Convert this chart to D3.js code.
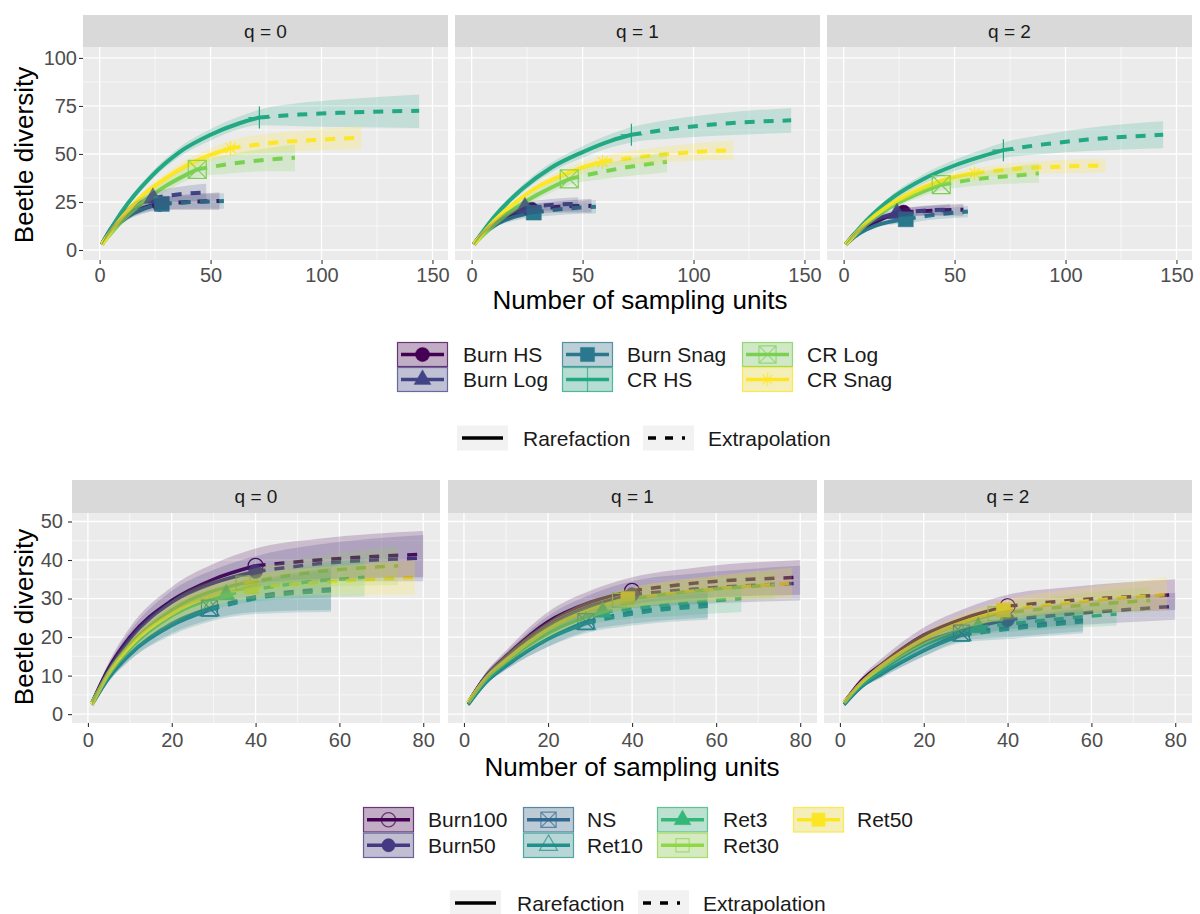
<!DOCTYPE html>
<html><head><meta charset="utf-8">
<script src="https://cdn.jsdelivr.net/npm/d3@7"></script>
<style>body{margin:0;background:#fff;} text{font-family:"Liberation Sans",Arial,sans-serif;}</style>
</head><body><svg id="c" width="1200" height="914"></svg>
<script>
// ---------------- DATA ----------------
const facetLabels = ["q = 0", "q = 1", "q = 2"];
const lineTypes = ["Rarefaction", "Extrapolation"];
const xTitle = "Number of sampling units";
const yTitle = "Beetle diversity";

// Top figure
const topGroups = ["Burn HS", "Burn Log", "Burn Snag", "CR HS", "CR Log", "CR Snag"];
const topN = [27, 24, 28, 72, 44, 59]; // observed sampling units (end of rarefaction)
const topXTicks = [0, 50, 100, 150];
const topYTicks = [0, 25, 50, 75, 100];
// each point: [units, diversity, lower CI, upper CI]
const topQ0 = [
  [[1,3,2.5,3.5],[5,10,9,11],[10,15.5,14,17],[15,19.5,17.5,21.5],[20,22,19.5,24.5],[27,24,21,27],[40,25,21,29],[54,25.5,21,30]],
  [[1,3,2.5,3.5],[5,11,10,12],[10,18,16.5,19.5],[15,22.5,20.5,24.5],[20,25.5,23,28],[24,27,24,30],[36,29,25,33],[48,30,25.5,34.5]],
  [[1,3,2.5,3.5],[5,9.5,8.5,10.5],[10,15,13.5,16.5],[15,19,17,21],[20,21.5,19,24],[28,24,21,27],[42,25,21.5,28.5],[56,25.5,21.5,29.5]],
  [[1,3,2.5,3.5],[10,20,18.5,21.5],[23,38,36,40],[36,51,48.5,53.5],[50,60,57,63],[63,66,63,69.5],[72,69,65,73],[90,70.5,64.5,76.5],[110,71.5,64,78.5],[144,72.5,63.5,81]],
  [[1,3,2.5,3.5],[10,15,13.5,16.5],[20,25.5,23,28],[30,33.5,30.5,36.5],[44,42,38,46],[60,45,40,50],[75,47,41,53],[88,48,41,55]],
  [[1,3,2.5,3.5],[10,17,15.5,18.5],[20,29,27,31],[30,37.5,35,40],[40,44.5,41.5,47.5],[50,49.5,46,53],[59,53,49,57],[80,56,51,61],[100,57.5,52,63],[118,58.5,52.5,64.5]]
];
const topQ1 = [
  [[1,3,2.5,3.5],[5,8.5,8,9.5],[10,13,12,14.5],[15,16.5,15,18],[20,19,17,21],[27,21,18.5,23.5],[40,22.5,19.5,25.5],[54,23,19.5,26.5]],
  [[1,3,2.5,3.5],[5,9,8.5,10],[10,14.5,13.5,15.5],[15,18,16.5,19.5],[20,20.5,18.5,22.5],[24,22,19.5,24.5],[36,23.5,20.5,26.5],[48,24,20.5,27.5]],
  [[1,3,2.5,3.5],[5,8,7.5,9],[10,12.5,11.5,13.5],[15,15.5,14,17],[20,17.5,15.5,19.5],[28,19.5,17,22],[42,21.5,18.5,24.5],[56,22.5,19,26]],
  [[1,3,2.5,3.5],[10,17,16,18.5],[23,32,30,34],[36,43,40.5,45.5],[50,51,48,54],[63,57,53.5,60.5],[72,60,56,64],[90,63,58,68],[110,65.5,59.5,71],[144,67.5,61,74]],
  [[1,3,2.5,3.5],[10,13,12,14],[20,22,20,24],[30,29,26.5,31.5],[44,37,34,40],[60,41,37,45],[75,44,39,48.5],[88,46,40.5,51]],
  [[1,3,2.5,3.5],[10,15,14,16],[20,25,23.5,26.5],[30,33,31,35],[40,38.5,36,41],[50,43,40,46],[59,46,43,49],[80,49,45,53],[100,51,46.5,55.5],[118,52,47,57]]
];
const topQ2 = [
  [[1,3,2.5,3.5],[5,8,7.5,9],[10,12,11,13],[15,15,13.5,16.5],[20,17.5,16,19],[27,19.5,17.5,21.5],[40,20.5,18,23],[54,21,18,24]],
  [[1,3,2.5,3.5],[5,8.5,8,9.5],[10,13,12,14],[15,16,14.5,17.5],[20,18,16.5,20],[24,19,17,21],[36,20.5,18,23],[48,21,18,24]],
  [[1,3,2.5,3.5],[5,7,6.5,8],[10,10.5,9.5,11.5],[15,13,12,14.5],[20,14.5,13,16],[28,16,14,18],[42,18.5,16,21],[56,20,17,23]],
  [[1,3,2.5,3.5],[10,15,14,16],[23,28,26,30],[36,37,34.5,39.5],[50,44,41,47],[63,49,46,52.5],[72,52,48,56],[90,55,50,60],[110,57.5,51.5,63.5],[144,60,53,67]],
  [[1,3,2.5,3.5],[10,13,12,14],[20,21.5,20,23],[30,27.5,25.5,29.5],[44,34,31,37],[60,37,33.5,40.5],[75,38.5,34.5,43],[88,40,35,45]],
  [[1,3,2.5,3.5],[10,14,13,15],[20,23,21.5,24.5],[30,29.5,27.5,31.5],[40,34.5,32.5,36.5],[50,38,35.5,40.5],[59,40,37.5,42.5],[80,42.5,39.5,45.5],[100,43.5,40,47],[118,44,40.5,47.5]]
];

// Bottom figure
const botGroups = ["Burn100", "Burn50", "NS", "Ret10", "Ret3", "Ret30", "Ret50"];
const botN = [40, 40, 29, 29, 33, 37, 39];
const botXTicks = [0, 20, 40, 60, 80];
const botYTicks = [0, 10, 20, 30, 40, 50];
const botQ0 = [
  [[1,3,2.5,3.5],[5,12,11,13.5],[10,20,18,22.5],[20,29.5,26.5,33],[30,35,31,39],[40,38.5,34,43],[55,40,35,45.5],[80,41.5,35.5,47.5]],
  [[1,3,2.5,3.5],[5,11.5,10.5,13],[10,19.5,17.5,21.5],[20,29,26,32],[30,34,30.5,37.5],[40,37,33,41],[55,39,34.5,44],[80,40.5,34.5,46.5]],
  [[1,2.5,2,3],[5,9.5,8.5,10.5],[10,15.5,14,17],[20,23.5,21,26],[29,27.5,24.5,30.5],[40,30.5,26.5,34.5],[58,32.5,27,38]],
  [[1,2.5,2,3],[5,9.5,8.5,10.5],[10,15.5,14,17],[20,23,20.5,25.5],[29,27,24,30],[40,30,26,34],[58,32,26.5,37.5]],
  [[1,3,2.5,3.5],[5,10.5,9.5,11.5],[10,17,15.5,18.5],[20,25.5,23,28],[33,31,28,34],[50,34,30,38],[66,35.5,30.5,40.5]],
  [[1,3,2.5,3.5],[5,11,10,12],[10,18,16.5,19.5],[20,27,24.5,29.5],[37,34,31,37],[55,37,33,41],[74,38.5,33.5,43.5]],
  [[1,2.5,2,3],[5,10.5,9.5,11.5],[10,17.5,16,19],[20,26,23.5,28.5],[39,33,30,36],[60,34.5,31,38.5],[78,35.5,31,40]]
];
const botQ1 = [
  [[1,3,2.5,3.5],[5,9.5,8.5,10.5],[10,15,13.5,16.5],[20,24,21.5,26.5],[30,29,26,32],[40,32,28.5,35.5],[55,34,30,38],[80,35.5,31,40]],
  [[1,3,2.5,3.5],[5,9.5,8.5,10.5],[10,14.5,13,16],[20,23,20.5,25.5],[30,28,25,31],[40,31,27.5,34.5],[55,32.5,28.5,36.5],[80,34,29.5,38.5]],
  [[1,2.5,2,3],[5,8,7.5,9],[10,12.5,11.5,13.5],[20,19.5,17.5,21.5],[29,24,21.5,26.5],[40,26.5,23.5,29.5],[58,28.5,25,32]],
  [[1,2.5,2,3],[5,8,7.5,9],[10,12.5,11.5,13.5],[20,19.5,17.5,21.5],[29,23.5,21,26],[40,26,23,29],[58,28,24.5,31.5]],
  [[1,3,2.5,3.5],[5,8.5,8,9.5],[10,13.5,12.5,14.5],[20,21,19,23],[33,26.5,24,29],[50,28.5,25.5,31.5],[66,30,26.5,33.5]],
  [[1,3,2.5,3.5],[5,9,8.5,10],[10,14,13,15.5],[20,22,20,24],[37,29.5,27,32],[55,32,29,35],[74,33.5,30,37]],
  [[1,3,2.5,3.5],[5,9,8.5,10],[10,14,13,15.5],[20,22,20,24],[39,30,27.5,32.5],[60,32.5,29.5,36],[78,34,30,38]]
];
const botQ2 = [
  [[1,3,2.5,3.5],[5,8.5,8,9.5],[10,13,12,14.5],[20,20.5,18.5,22.5],[30,25,22.5,27.5],[40,28,25,31],[55,29.5,26,33],[80,31,27,35]],
  [[1,3,2.5,3.5],[5,8,7.5,9],[10,12,11,13],[20,18.5,17,20.5],[30,22,20,24.5],[40,24.5,22,27],[55,26,23,29],[80,28,24.5,31.5]],
  [[1,2.5,2,3],[5,7,6.5,7.5],[10,10.5,9.5,11.5],[20,16.5,15,18],[29,21,19,23],[40,22.5,20,25],[58,24.5,21.5,27.5]],
  [[1,2.5,2,3],[5,7,6.5,7.5],[10,10.5,9.5,11.5],[20,16.5,15,18],[29,20.5,18.5,22.5],[40,22,19.5,24.5],[58,24,21,27]],
  [[1,3,2.5,3.5],[5,7.5,7,8],[10,11.5,10.5,12.5],[20,18,16.5,19.5],[33,22.5,20.5,24.5],[50,24.5,22,27],[66,26,23,29]],
  [[1,3,2.5,3.5],[5,8,7.5,8.5],[10,12.5,11.5,13.5],[20,19.5,18,21],[37,26,24,28],[55,28,25.5,31],[74,29.5,26.5,33]],
  [[1,3,2.5,3.5],[5,8,7.5,8.5],[10,12.5,11.5,13.5],[20,19.5,18,21],[39,27,24.5,29.5],[60,29.5,26.5,33],[78,31,27,35.5]]
];

// ---------------- STYLE ----------------
const topColors = ["#440154", "#414487", "#2A788E", "#22A884", "#7AD151", "#FDE725"];
const topShapes = ["circle", "triangle", "square", "plus", "squarecross", "asterisk"];
const botColors = ["#440154", "#443A83", "#31688E", "#21908C", "#35B779", "#8FD744", "#FDE725"];
const botShapes = ["opencircle", "circle", "squarecross", "opentriangle", "triangle", "opensquare", "square"];

const svg = d3.select("#c");
let clipId = 0;

function shapePath(shape, s) {
  const h = s / 2;
  switch (shape) {
    case "circle": case "opencircle":
      return d3.symbol(d3.symbolCircle, Math.PI * h * h)();
    case "triangle": case "opentriangle": {
      const r = s / Math.sqrt(3);
      return `M0,${-r}L${h},${r / 2}L${-h},${r / 2}Z`;
    }
    case "square": case "opensquare":
      return `M${-h},${-h}H${h}V${h}H${-h}Z`;
    case "plus":
      return `M0,${-h}V${h}M${-h},0H${h}`;
    case "squarecross":
      return `M${-h},${-h}H${h}V${h}H${-h}ZM${-h},${-h}L${h},${h}M${h},${-h}L${-h},${h}`;
    case "asterisk": {
      const d = h * 0.72;
      return `M0,${-h}V${h}M${-h},0H${h}M${-d},${-d}L${d},${d}M${d},${-d}L${-d},${d}`;
    }
  }
}
function drawShape(g, shape, cx, cy, color, s, op) {
  const filled = ["circle", "triangle", "square"].includes(shape);
  g.append("path").attr("d", shapePath(shape, s))
    .attr("transform", `translate(${cx},${cy})`)
    .attr("fill", filled ? color : "none")
    .attr("stroke", color)
    .attr("stroke-opacity", op == null ? 1 : op)
    .attr("stroke-width", filled ? 0.5 : 1.2);
}

function drawPlot(cfg) {
  cfg.panels.forEach((px, pi) => {
    const x = d3.scaleLinear().domain(cfg.xDomain).range(px);
    const y = d3.scaleLinear().domain(cfg.yDomain).range([cfg.panelBottom, cfg.panelTop]);
    const g = svg.append("g");
    const w = px[1] - px[0], h = cfg.panelBottom - cfg.panelTop;
    g.append("rect").attr("x", px[0]).attr("y", cfg.panelTop).attr("width", w).attr("height", h).attr("fill", "#EBEBEB");
    g.selectAll(null).data(cfg.xMinor).enter().append("line")
      .attr("x1", d => x(d)).attr("x2", d => x(d)).attr("y1", cfg.panelTop).attr("y2", cfg.panelBottom)
      .attr("stroke", "#fff").attr("stroke-width", 0.6);
    g.selectAll(null).data(cfg.yMinor).enter().append("line")
      .attr("y1", d => y(d)).attr("y2", d => y(d)).attr("x1", px[0]).attr("x2", px[1])
      .attr("stroke", "#fff").attr("stroke-width", 0.6);
    g.selectAll(null).data(cfg.xTicks).enter().append("line")
      .attr("x1", d => x(d)).attr("x2", d => x(d)).attr("y1", cfg.panelTop).attr("y2", cfg.panelBottom)
      .attr("stroke", "#fff").attr("stroke-width", 1.3);
    g.selectAll(null).data(cfg.yTicks).enter().append("line")
      .attr("y1", d => y(d)).attr("y2", d => y(d)).attr("x1", px[0]).attr("x2", px[1])
      .attr("stroke", "#fff").attr("stroke-width", 1.3);

    const cid = "clip" + (clipId++);
    svg.append("clipPath").attr("id", cid).append("rect")
      .attr("x", px[0]).attr("y", cfg.panelTop).attr("width", w).attr("height", h);
    const pg = g.append("g").attr("clip-path", `url(#${cid})`);
    const series = cfg.data[pi];
    const area = d3.area().x(d => x(d[0])).y0(d => y(d[2])).y1(d => y(d[3])).curve(d3.curveMonotoneX);
    const line = d3.line().x(d => x(d[0])).y(d => y(d[1])).curve(d3.curveMonotoneX);
    series.forEach((s, k) => {
      const n = cfg.n[k];
      pg.append("path").attr("d", line(s.filter(d => d[0] <= n)))
        .attr("fill", "none").attr("stroke", cfg.colors[k]).attr("stroke-width", cfg.lineW);
      pg.append("path").attr("d", line(s.filter(d => d[0] >= n)))
        .attr("fill", "none").attr("stroke", cfg.colors[k]).attr("stroke-width", cfg.lineW)
        .attr("stroke-dasharray", "10,9");
    });
    series.forEach((s, k) => {
      const n = cfg.n[k];
      const p = s.find(d => d[0] === n);
      drawShape(pg, cfg.shapes[k], x(p[0]), y(p[1]), cfg.colors[k], cfg.ptSizes[k]);
    });
    series.forEach((s, k) => {
      pg.append("path").attr("d", area(s)).attr("fill", cfg.colors[k]).attr("fill-opacity", 0.2);
    });
    g.append("rect").attr("x", px[0]).attr("y", cfg.stripTop).attr("width", w)
      .attr("height", cfg.panelTop - cfg.stripTop).attr("fill", "#D9D9D9");
    g.append("text").attr("x", (px[0] + px[1]) / 2).attr("y", (cfg.stripTop + cfg.panelTop) / 2)
      .attr("text-anchor", "middle").attr("dominant-baseline", "central")
      .attr("font-size", cfg.stripFont).attr("fill", "#1A1A1A").text(facetLabels[pi]);
    const ax = g.append("g").attr("transform", `translate(0,${cfg.panelBottom})`)
      .call(d3.axisBottom(x).tickValues(cfg.xTicks).tickSize(4).tickPadding(cfg.xPad));
    ax.select(".domain").remove();
    ax.selectAll("line").attr("stroke", "#333").attr("stroke-width", 1.1);
    ax.selectAll("text").attr("font-size", cfg.tickFont).attr("fill", "#4D4D4D")
      .attr("font-family", "Liberation Sans, Arial, sans-serif");
    if (pi === 0) {
      const ay = g.append("g").attr("transform", `translate(${px[0]},0)`)
        .call(d3.axisLeft(y).tickValues(cfg.yTicks).tickSize(4).tickPadding(cfg.yPad));
      ay.select(".domain").remove();
      ay.selectAll("line").attr("stroke", "#333").attr("stroke-width", 1.1);
      ay.selectAll("text").attr("font-size", cfg.tickFont).attr("fill", "#4D4D4D")
        .attr("font-family", "Liberation Sans, Arial, sans-serif");
    }
  });
  svg.append("text").attr("x", cfg.xTitleX).attr("y", cfg.xTitleY).attr("text-anchor", "middle")
    .attr("font-size", cfg.titleFont).attr("fill", "#000").text(xTitle);
  svg.append("text").attr("transform", `translate(${cfg.yTitleX},${cfg.yTitleY}) rotate(-90)`)
    .attr("text-anchor", "middle").attr("dominant-baseline", "central")
    .attr("font-size", cfg.titleFont).attr("fill", "#000").text(yTitle);

  const L = cfg.legend;
  cfg.groups.forEach((name, k) => {
    const col = Math.floor(k / 2), row = k % 2;
    const kx = L.keyX[col], ky = L.top + row * L.keyH;
    const g = svg.append("g");
    g.append("rect").attr("x", kx).attr("y", ky).attr("width", L.keyW).attr("height", L.keyH).attr("fill", "#F2F2F2");
    g.append("line").attr("x1", kx + 4).attr("x2", kx + L.keyW - 4).attr("y1", ky + L.keyH / 2).attr("y2", ky + L.keyH / 2)
      .attr("stroke", cfg.colors[k]).attr("stroke-width", 3.5);
    drawShape(g, cfg.shapes[k], kx + L.keyW / 2, ky + L.keyH / 2, cfg.colors[k],
      cfg.shapes[k] === "plus" ? L.keyH : cfg.ptSizes[k] * 0.95, 0.7);
    g.append("rect").attr("x", kx + 0.5).attr("y", ky + 0.5).attr("width", L.keyW - 1).attr("height", L.keyH - 1)
      .attr("fill", cfg.colors[k]).attr("fill-opacity", 0.28).attr("stroke", cfg.colors[k]).attr("stroke-opacity", 0.75).attr("stroke-width", 1.2);
    g.append("text").attr("x", L.labelX[col]).attr("y", ky + L.keyH / 2).attr("dominant-baseline", "central")
      .attr("font-size", L.font).attr("fill", "#1A1A1A").text(name);
  });
  const T = cfg.ltLegend;
  lineTypes.forEach((name, k) => {
    const kx = T.keyX[k], ky = T.cy - L.keyH / 2;
    svg.append("rect").attr("x", kx).attr("y", ky).attr("width", L.keyW).attr("height", L.keyH).attr("fill", "#F2F2F2");
    const ln = svg.append("line").attr("y1", T.cy).attr("y2", T.cy).attr("stroke", "#000").attr("stroke-width", 3.5);
    if (k === 1) ln.attr("x1", kx + 5).attr("x2", kx + L.keyW - 9).attr("stroke-dasharray", "8,9");
    else ln.attr("x1", kx + 5).attr("x2", kx + L.keyW - 5);
    svg.append("text").attr("x", T.labelX[k]).attr("y", T.cy).attr("dominant-baseline", "central")
      .attr("font-size", L.font).attr("fill", "#1A1A1A").text(name);
  });
}

drawPlot({
  panels: [[83, 448], [455, 820], [827, 1192]],
  stripTop: 15, panelTop: 47, panelBottom: 260,
  xDomain: [-7.5, 157], yDomain: [-5.2, 105.7],
  xTicks: topXTicks, yTicks: topYTicks, xMinor: [25, 75, 125], yMinor: [12.5, 37.5, 62.5, 87.5],
  data: [topQ0, topQ1, topQ2], n: topN, colors: topColors, shapes: topShapes,
  ptSizes: [15, 18, 15, 22, 18, 14], lineW: 4,
  stripFont: 19, tickFont: 20, titleFont: 26, xPad: 4, yPad: 2,
  xTitleX: 640, xTitleY: 309, yTitleX: 24, yTitleY: 155,
  groups: topGroups,
  legend: { keyX: [397, 562, 742], labelX: [463, 627, 807], top: 342, keyW: 51, keyH: 25, font: 21 },
  ltLegend: { keyX: [457, 643], labelX: [523, 708], cy: 438 }
});
drawPlot({
  panels: [[72, 440], [448, 817], [824, 1192]],
  stripTop: 480, panelTop: 513, panelBottom: 723,
  xDomain: [-3.8, 84], yDomain: [-2.3, 52.2],
  xTicks: botXTicks, yTicks: botYTicks, xMinor: [10, 30, 50, 70], yMinor: [5, 15, 25, 35, 45],
  data: [botQ0, botQ1, botQ2], n: botN, colors: botColors, shapes: botShapes,
  ptSizes: [15, 14, 16, 19, 18, 14, 14], lineW: 3.5,
  stripFont: 19, tickFont: 20, titleFont: 26, xPad: 6, yPad: 5,
  xTitleX: 632, xTitleY: 776, yTitleX: 24, yTitleY: 617,
  groups: botGroups,
  legend: { keyX: [363, 523, 657, 793], labelX: [428, 587, 723, 857], top: 807, keyW: 51, keyH: 25.5, font: 21 },
  ltLegend: { keyX: [450, 638], labelX: [517, 703], cy: 903 }
});
</script></body></html>
